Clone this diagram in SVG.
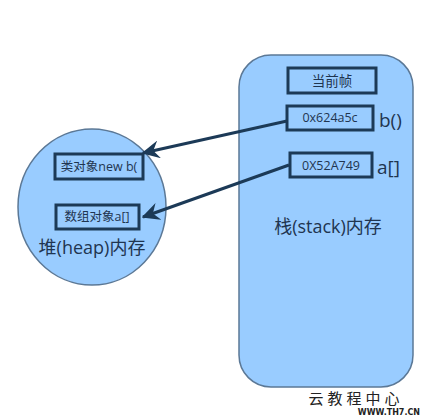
<svg xmlns="http://www.w3.org/2000/svg" width="424" height="420" viewBox="0 0 424 420">
<defs>
<style>
.mem{fill:#99ccff;stroke:#5b7896;stroke-width:1.5}
.box{fill:#99ccff;stroke:#1c3a57;stroke-width:3}
.t{font-family:"Open Sans","Noto Sans CJK SC",sans-serif;fill:#1f3550}
.small{font-size:12.5px}
.big{font-size:18px}
.conn{stroke:#1c3a57;stroke-width:3;fill:none}
</style>
<marker id="arr" viewBox="0 0 12 12" refX="11" refY="6" markerWidth="6" markerHeight="6" orient="auto" markerUnits="strokeWidth">
<path d="M0,0 L12,6 L0,12 L4,6 Z" fill="#1c3a57"/>
</marker>
</defs>
<rect width="424" height="420" fill="#ffffff"/>
<g id="stack">
<rect class="mem" x="239" y="55" width="174" height="332" rx="32" ry="32"/>
<text class="t big" x="328" y="233" text-anchor="middle">栈(stack)内存</text>
</g>
<g id="frame">
<rect class="box" x="288" y="68" width="88" height="25"/>
<text class="t" x="332" y="86" font-size="13.5" text-anchor="middle">当前帧</text>
</g>
<g id="ref-b">
<rect class="box" x="287" y="106" width="86" height="24"/>
<text class="t small" x="330" y="122" text-anchor="middle">0x624a5c</text>
<text class="t" x="379" y="127" font-size="19">b()</text>
</g>
<g id="ref-a">
<rect class="box" x="290" y="153" width="82" height="24"/>
<text class="t small" x="331" y="170" text-anchor="middle">0X52A749</text>
<text class="t" x="377" y="174" font-size="19">a[]</text>
</g>
<g id="heap">
<ellipse class="mem" cx="92" cy="207" rx="74" ry="78"/>
<text class="t big" x="92" y="254" text-anchor="middle">堆(heap)内存</text>
</g>
<g id="obj-b">
<rect class="box" x="55" y="154" width="88" height="25"/>
<text class="t small" x="99" y="171" text-anchor="middle">类对象new b(</text>
</g>
<g id="obj-a">
<rect class="box" x="56" y="205" width="83" height="24"/>
<text class="t small" x="97" y="221" text-anchor="middle">数组对象a[]</text>
</g>
<g id="connectors">
<line class="conn" x1="287" y1="121" x2="143" y2="153" marker-end="url(#arr)"/>
<line class="conn" x1="289" y1="165" x2="143" y2="217" marker-end="url(#arr)"/>
</g>
<g id="watermark">
<text x="356" y="404" font-family="'Noto Sans CJK SC',sans-serif" font-size="15" fill="#222" text-anchor="middle" letter-spacing="4">云教程中心</text>
<text x="420" y="415" font-family="'DejaVu Sans',sans-serif" font-size="8" font-weight="bold" fill="#222" text-anchor="end">WWW.TH7.CN</text>
</g>
</svg>
